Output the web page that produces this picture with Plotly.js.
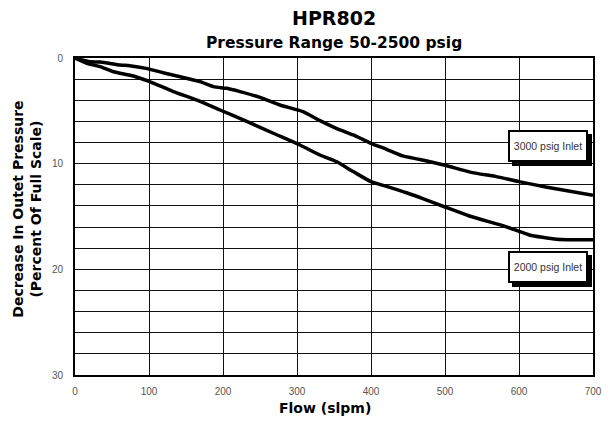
<!DOCTYPE html>
<html><head><meta charset="utf-8">
<script src="https://cdn.plot.ly/plotly-3.0.1.min.js"></script>
<style>html,body{margin:0;padding:0;background:#fff}#c{width:610px;height:432px}</style>
</head><body><div id="c"></div>
<script>
const flow3000 = [0, 20, 34, 61, 74, 96, 119, 142, 169, 187, 205, 223, 250, 277, 308, 331, 353, 376, 400, 421, 443, 466, 500, 537, 568, 600, 636, 700];
const drop3000 = [0, 0.35, 0.38, 0.66, 0.73, 0.98, 1.39, 1.77, 2.24, 2.71, 2.87, 3.18, 3.72, 4.45, 5.08, 5.93, 6.65, 7.28, 8.07, 8.64, 9.27, 9.6, 10.15, 10.85, 11.2, 11.7, 12.2, 13.0];
const flow2000 = [0, 16, 34, 52, 79, 101, 133, 164, 196, 232, 268, 304, 331, 353, 376, 400, 421, 448, 470, 500, 533, 582, 600, 614, 651, 700];
const drop2000 = [0, 0.5, 0.82, 1.3, 1.7, 2.24, 3.18, 3.97, 4.92, 6.0, 7.12, 8.23, 9.18, 9.8, 10.75, 11.7, 12.15, 12.75, 13.3, 14.1, 14.95, 15.95, 16.4, 16.75, 17.15, 17.2];
const xTicks = [0, 100, 200, 300, 400, 500, 600, 700];
const yTicks = [0, 2, 4, 6, 8, 10, 12, 14, 16, 18, 20, 22, 24, 26, 28, 30];
const yTickText = ["0", "", "", "", "", "10", "", "", "", "", "20", "", "", "", "", "30"];
const labels = [{text: "3000 psig Inlet", x: 639, y: 8.33}, {text: "2000 psig Inlet", x: 639, y: 19.8}];
const titleText = "HPR802";
const subtitleText = "Pressure Range 50-2500 psig";
const xTitle = "Flow (slpm)";
const yTitle = "Decrease In Outet Pressure<br>(Percent Of Full Scale)";

const boldFont = "DejaVu Sans, Verdana, sans-serif";
const lineStyle = {color: "#000", width: 3.5, shape: "spline", smoothing: 0.6};
const traces = [
  {x: flow3000, y: drop3000, mode: "lines", line: lineStyle, hoverinfo: "skip"},
  {x: flow2000, y: drop2000, mode: "lines", line: lineStyle, hoverinfo: "skip"}
];
const annotations = [];
labels.forEach(l => {
  const base = {x: l.x, y: l.y, xref: "x", yref: "y", showarrow: false, width: 72, height: 24,
    borderwidth: 2, borderpad: 2, bordercolor: "#000"};
  annotations.push(Object.assign({}, base, {text: " ", xshift: 4, yshift: -4, bgcolor: "#000", font: {family: "Liberation Sans, Arial", size: 10.5, color: "#000"}}));
  annotations.push(Object.assign({}, base, {text: l.text, bgcolor: "#fff", font: {family: "Liberation Sans, Arial", size: 10.5, color: "#333"}}));
});
annotations.push({xref: "paper", yref: "paper", x: 0.5, y: 1.126, yanchor: "middle", text: "<b>" + titleText + "</b>", showarrow: false,
  font: {family: boldFont, size: 19, color: "#000"}});
annotations.push({xref: "paper", yref: "paper", x: 0.5, y: 1.047, yanchor: "middle", text: "<b>" + subtitleText + "</b>", showarrow: false,
  font: {family: boldFont, size: 15.5, color: "#000"}});
annotations.push({xref: "paper", yref: "paper", x: 0.483, y: -0.104, yanchor: "middle", text: "<b>" + xTitle + "</b>", showarrow: false,
  font: {family: boldFont, size: 14, color: "#000"}});
annotations.push({xref: "paper", yref: "paper", x: -0.093, y: 0.524, xanchor: "center", yanchor: "middle", textangle: -90,
  text: "<b>" + yTitle + "</b>", showarrow: false, font: {family: boldFont, size: 14, color: "#000"}});

const tickFont = {family: "Liberation Sans, Arial", size: 10, color: "#555"};
const layout = {
  width: 610, height: 432,
  margin: {l: 75, r: 17, t: 58, b: 57},
  paper_bgcolor: "#fff", plot_bgcolor: "#fff",
  showlegend: false,
  xaxis: {range: [0, 700], tickvals: xTicks, showgrid: true, gridcolor: "#111", gridwidth: 1, zeroline: false,
    showline: true, linecolor: "#000", linewidth: 2, mirror: true, ticks: "", ticklabelstandoff: 6, tickfont: tickFont},
  yaxis: {range: [30, 0], tickvals: yTicks, ticktext: yTickText, showgrid: true, gridcolor: "#111", gridwidth: 1, zeroline: false,
    showline: true, linecolor: "#000", linewidth: 2, mirror: true, ticks: "", ticklabelstandoff: 8, tickfont: tickFont},
  annotations: annotations
};
Plotly.newPlot("c", traces, layout, {staticPlot: true, displayModeBar: false});
</script></body></html>
